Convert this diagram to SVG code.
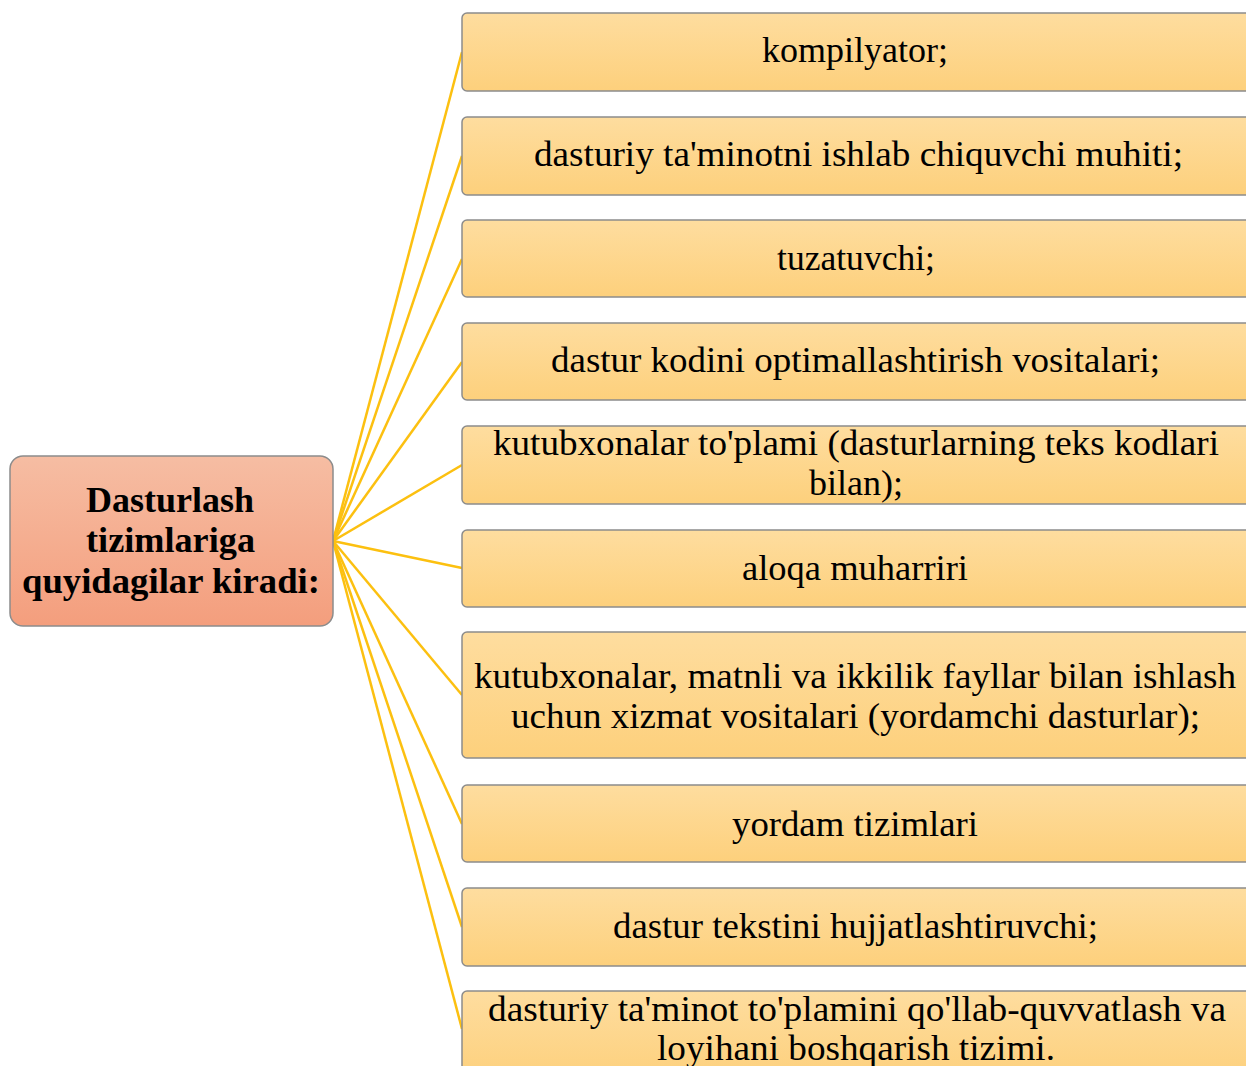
<svg xmlns="http://www.w3.org/2000/svg" width="1246" height="1066" viewBox="0 0 1246 1066">
<defs>
<linearGradient id="gY" x1="0" y1="0" x2="0" y2="1"><stop offset="0" stop-color="#fedd9f"/><stop offset="1" stop-color="#fdd07c"/></linearGradient>
<linearGradient id="gR" x1="0" y1="0" x2="0" y2="1"><stop offset="0" stop-color="#f6bda3"/><stop offset="1" stop-color="#f49e7d"/></linearGradient>
</defs>
<style>
.box{fill:url(#gY);stroke:#8c8c8c;stroke-width:1.5}
.t{font-family:"Liberation Serif","Times New Roman",serif;font-size:36px;fill:#000}
.c{font-family:"Liberation Serif","Times New Roman",serif;font-size:36px;font-weight:bold;fill:#000}
.ln{stroke:#fcc010;stroke-width:2.5;fill:none}
</style>
<g id="connectors">
<line class="ln" x1="333" y1="541" x2="462" y2="52"/>
<line class="ln" x1="333" y1="541" x2="462" y2="156"/>
<line class="ln" x1="333" y1="541" x2="462" y2="259"/>
<line class="ln" x1="333" y1="541" x2="462" y2="362"/>
<line class="ln" x1="333" y1="541" x2="462" y2="465"/>
<line class="ln" x1="333" y1="541" x2="462" y2="568"/>
<line class="ln" x1="333" y1="541" x2="462" y2="695"/>
<line class="ln" x1="333" y1="541" x2="462" y2="824"/>
<line class="ln" x1="333" y1="541" x2="462" y2="927"/>
<line class="ln" x1="333" y1="541" x2="462" y2="1029"/>
</g>
<g id="center">
<rect x="10" y="456" width="323" height="170" rx="13" fill="url(#gR)" stroke="#8c8c8c" stroke-width="1.5"/>
<text class="c" x="86" y="512" textLength="168" lengthAdjust="spacingAndGlyphs">Dasturlash</text>
<text class="c" x="86" y="552" textLength="169" lengthAdjust="spacingAndGlyphs">tizimlariga</text>
<text class="c" x="22" y="593" textLength="298" lengthAdjust="spacingAndGlyphs">quyidagilar  kiradi:</text>
</g>
<g id="n1"><rect class="box" x="462" y="13" width="790" height="78" rx="5"/>
<text class="t" x="762" y="62" textLength="186" lengthAdjust="spacingAndGlyphs">kompilyator;</text></g>
<g id="n2"><rect class="box" x="462" y="117" width="790" height="78" rx="5"/>
<text class="t" x="534" y="166" textLength="649" lengthAdjust="spacingAndGlyphs">dasturiy  ta'minotni  ishlab  chiquvchi  muhiti;</text></g>
<g id="n3"><rect class="box" x="462" y="220" width="790" height="77" rx="5"/>
<text class="t" x="777" y="270" textLength="158" lengthAdjust="spacingAndGlyphs">tuzatuvchi;</text></g>
<g id="n4"><rect class="box" x="462" y="323" width="790" height="77" rx="5"/>
<text class="t" x="551" y="372" textLength="609" lengthAdjust="spacingAndGlyphs">dastur  kodini  optimallashtirish  vositalari;</text></g>
<g id="n5"><rect class="box" x="462" y="426" width="790" height="78" rx="5"/>
<text class="t" x="493" y="455" textLength="726" lengthAdjust="spacingAndGlyphs">kutubxonalar  to'plami  (dasturlarning  teks kodlari</text>
<text class="t" x="809" y="495" textLength="94" lengthAdjust="spacingAndGlyphs">bilan);</text></g>
<g id="n6"><rect class="box" x="462" y="530" width="790" height="77" rx="5"/>
<text class="t" x="742" y="580" textLength="226" lengthAdjust="spacingAndGlyphs">aloqa  muharriri</text></g>
<g id="n7"><rect class="box" x="462" y="632" width="790" height="126" rx="5"/>
<text class="t" x="474" y="688" textLength="762" lengthAdjust="spacingAndGlyphs">kutubxonalar,  matnli  va  ikkilik  fayllar  bilan  ishlash</text>
<text class="t" x="511" y="728" textLength="689" lengthAdjust="spacingAndGlyphs">uchun  xizmat  vositalari  (yordamchi  dasturlar);</text></g>
<g id="n8"><rect class="box" x="462" y="785" width="790" height="77" rx="5"/>
<text class="t" x="732" y="836" textLength="246" lengthAdjust="spacingAndGlyphs">yordam  tizimlari</text></g>
<g id="n9"><rect class="box" x="462" y="888" width="790" height="78" rx="5"/>
<text class="t" x="613" y="938" textLength="485" lengthAdjust="spacingAndGlyphs">dastur  tekstini  hujjatlashtiruvchi;</text></g>
<g id="n10"><rect class="box" x="462" y="991" width="790" height="90" rx="5"/>
<text class="t" x="488" y="1021" textLength="738" lengthAdjust="spacingAndGlyphs">dasturiy  ta'minot  to'plamini  qo'llab-quvvatlash  va</text>
<text class="t" x="657" y="1060" textLength="398" lengthAdjust="spacingAndGlyphs">loyihani  boshqarish  tizimi.</text></g>
</svg>
